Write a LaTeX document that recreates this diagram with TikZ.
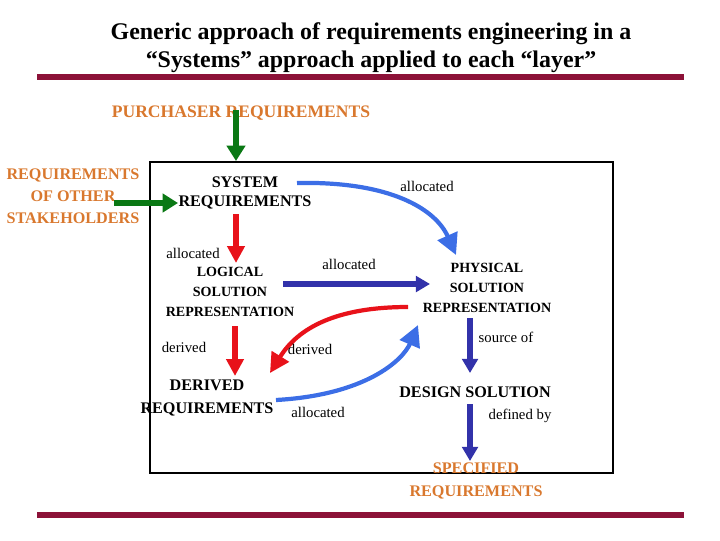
\documentclass[tikz,border=0pt]{standalone}
\usepackage{fontspec}
\setmainfont{Liberation Serif}
\usepackage{xcolor}
\usepackage{tikz}
\usetikzlibrary{arrows.meta, calc}

\definecolor{rulered}{RGB}{140,18,56}
\definecolor{reqorange}{RGB}{217,120,46}
\definecolor{flowgreen}{RGB}{10,120,20}
\definecolor{flowred}{RGB}{232,18,26}
\definecolor{flowblue}{RGB}{60,110,230}
\definecolor{flowdark}{RGB}{50,50,170}

\begin{document}
\begin{tikzpicture}[x=0.025cm, y=-0.025cm,
    title/.style={font=\fontsize{17}{19.8}\selectfont\bfseries, align=center, inner sep=0pt},
    outside/.style={font=\fontsize{11.5}{15.6}\selectfont\bfseries, text=reqorange, align=center, inner sep=0pt},
    block/.style={font=\fontsize{11.5}{14}\selectfont\bfseries, align=center, inner sep=0pt},
    smallblock/.style={font=\fontsize{10}{14}\selectfont\bfseries, align=center, inner sep=0pt},
    note/.style={font=\fontsize{10.5}{12}\selectfont, inner sep=0pt},
    rule/.style={rulered, line width=4.3pt},
    greenarrow/.style={-{Triangle[length=11pt, width=13pt]}, flowgreen, line width=3.6pt},
    redarrow/.style={-{Triangle[length=12pt, width=12pt]}, flowred, line width=3.6pt},
    darkarrow/.style={-{Triangle[length=10pt, width=11pt]}, flowdark, line width=3.6pt},
    redcurve/.style={-{Triangle[length=14pt, width=14pt]}, flowred, line width=3pt},
    bluecurve/.style={-{Triangle[length=15pt, width=15pt]}, flowblue, line width=3pt}
]
\useasboundingbox (0,0) rectangle (720,540);

% title and rules
\node[title] (title) at (371,48) {Generic approach of requirements engineering in a\\``Systems'' approach applied to each ``layer''};
\draw[rule] (37,77) -- (684,77);
\draw[rule] (37,515) -- (684,515);

% layer box
\draw[line width=0.8pt] (150,162) rectangle (613,473);

% requirement sources and results
\node[outside, font=\fontsize{12.5}{15.6}\selectfont\bfseries] (purchaser) at (241,113) {PURCHASER REQUIREMENTS};
\node[outside] (stakeholders) at (73,196) {REQUIREMENTS\\OF OTHER\\STAKEHOLDERS};
\node[outside, font=\fontsize{11.5}{16.3}\selectfont\bfseries] (specified) at (476,481) {SPECIFIED\\REQUIREMENTS};

% inside the layer
\node[block] (sysreq) at (245,193) {SYSTEM\\REQUIREMENTS};
\node[smallblock] (logical) at (230,292) {LOGICAL\\SOLUTION\\REPRESENTATION};
\node[smallblock] (physical) at (487,288) {PHYSICAL\\SOLUTION\\REPRESENTATION};
\node[block, font=\fontsize{11.5}{16.3}\selectfont\bfseries] (derived) at (207,398) {DERIVED\\REQUIREMENTS};
\node[block] (design) at (475,392) {DESIGN SOLUTION};

\draw[greenarrow] ($(purchaser)+(-5,-3)$) -- ($(sysreq)+(-9,-32)$);
\draw[greenarrow] ($(stakeholders)+(41,7)$) -- ($(sysreq)+(-67,10)$);
\draw[bluecurve] ($(sysreq)+(52,-10)$) .. controls +(95,-2) and +(-20,-45) .. ($(physical)+(-31,-33)$);
\draw[redarrow] ($(sysreq)+(-9,21)$) -- ($(logical)+(6,-29)$);
\draw[darkarrow] ($(logical)+(53,-8)$) -- ($(physical)+(-57,-4)$);
\draw[redcurve] ($(physical)+(-79,19)$) .. controls +(-80,0) and +(25,-40) .. ($(derived)+(63,-25)$);
\draw[redarrow] ($(logical)+(5,34)$) -- ($(derived)+(28,-22)$);
\draw[bluecurve] ($(derived)+(69,2)$) .. controls +(90,-5) and +(-15,35) .. ($(physical)+(-69,37)$);
\draw[darkarrow] ($(physical)+(-17,30)$) -- ($(design)+(-5,-19)$);
\draw[darkarrow] ($(design)+(-5,12)$) -- ($(specified)+(-6,-20)$);

% connector notes
\node[note] (noteA) at (427,186) {allocated};
\node[note] (noteB) at (193,253) {allocated};
\node[note] (noteC) at (349,264) {allocated};
\node[note] (noteD) at (184,347) {derived};
\node[note] (noteE) at (310,349) {derived};
\node[note] (noteF) at (318,412) {allocated};
\node[note] (noteG) at (506,337) {source of};
\node[note] (noteH) at (520,416) {defined by};

\end{tikzpicture}
\end{document}
